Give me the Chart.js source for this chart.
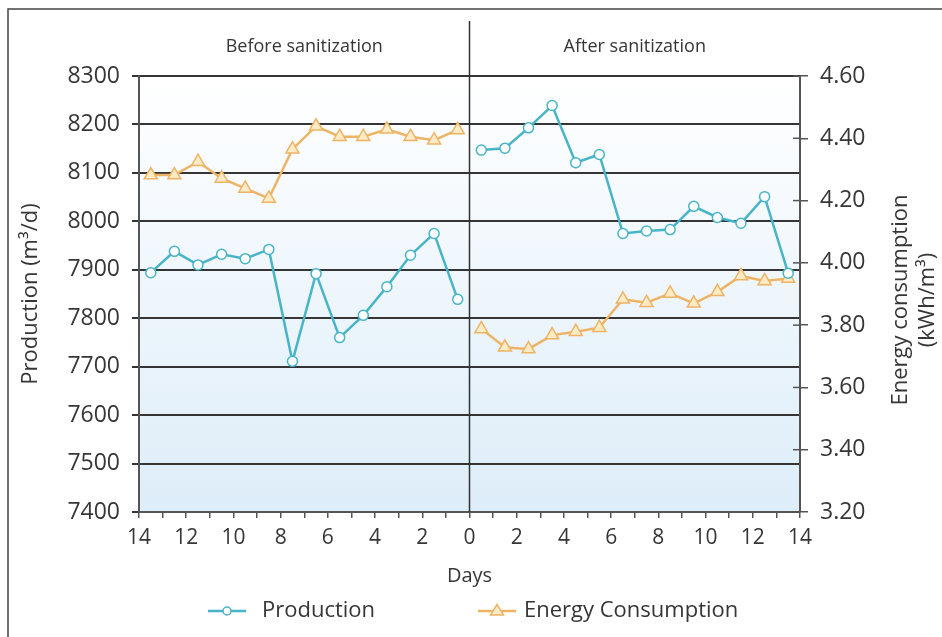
<!DOCTYPE html>
<html>
<head>
<meta charset="utf-8">
<script src="https://cdn.jsdelivr.net/npm/chart.js@4/dist/chart.umd.min.js"></script>
<style>
  html, body { margin: 0; padding: 0; background: #ffffff; }
  #wrap { position: relative; width: 942px; height: 637px; }
  canvas { display: block; }
</style>
</head>
<body>
<div id="wrap"><canvas id="c" width="942" height="637"></canvas></div>
<script>
// ---- Data ----
const beforeDays = [13.5, 12.5, 11.5, 10.5, 9.5, 8.5, 7.5, 6.5, 5.5, 4.5, 3.5, 2.5, 1.5, 0.5];
const afterDays  = [0.5, 1.5, 2.5, 3.5, 4.5, 5.5, 6.5, 7.5, 8.5, 9.5, 10.5, 11.5, 12.5, 13.5];

const productionBefore = [7894, 7938, 7910, 7932, 7923, 7942, 7711, 7892, 7760, 7806, 7865, 7930, 7975, 7839];
const productionAfter  = [8147, 8151, 8193, 8239, 8121, 8138, 7975, 7980, 7983, 8031, 8008, 7996, 8051, 7893];

const energyBefore = [4.282, 4.282, 4.325, 4.271, 4.239, 4.207, 4.365, 4.439, 4.405, 4.405, 4.429, 4.405, 4.394, 4.427];
const energyAfter  = [3.788, 3.729, 3.723, 3.768, 3.779, 3.792, 3.883, 3.872, 3.902, 3.870, 3.907, 3.958, 3.942, 3.950];

const periodLabels = ['Before sanitization', 'After sanitization'];
const seriesNames = ['Production', 'Energy Consumption'];
const leftAxisTitle = 'Production (m³/d)';
const rightAxisTitle = ['Energy consumption', '(kWh/m³)'];
const xAxisTitle = 'Days';

// ---- Build point lists (before = left side, negative positions) ----
function buildPoints(days1, vals1, days2, vals2) {
  const pts = days1.map((d, i) => ({ x: -d, y: vals1[i] }));
  pts.push({ x: 0, y: null });
  days2.forEach((d, i) => pts.push({ x: d, y: vals2[i] }));
  return pts;
}

const FONT = "'Open Sans', 'DejaVu Sans', sans-serif";
const TEXT = '#363636';
const GRID = '#353535';
const AXIS = '#555555';
const PROD_COLOR = '#48b4c7';
const ENERGY_COLOR = '#eeb465';
const ENERGY_FILL = '#fcebc4';

const decorPlugin = {
  id: 'decor',
  beforeDraw(chart) {
    const { ctx, chartArea: a } = chart;
    ctx.save();
    // outer frame (top & left)
    ctx.strokeStyle = '#444';
    ctx.lineWidth = 1.5;
    ctx.beginPath();
    ctx.moveTo(8, chart.height);
    ctx.lineTo(8, 9);
    ctx.lineTo(chart.width, 9);
    ctx.stroke();
    // plot background gradient
    const g = ctx.createLinearGradient(0, a.top, 0, a.bottom);
    g.addColorStop(0, '#ffffff');
    g.addColorStop(1, '#ddedf9');
    ctx.fillStyle = g;
    ctx.fillRect(a.left, a.top, a.right - a.left, a.bottom - a.top);
    ctx.restore();
  },
  beforeDatasetsDraw(chart) {
    const { ctx, chartArea: a, scales } = chart;
    const xs = scales.x, y2 = scales.y2;
    ctx.save();
    // divider at day 0
    const x0 = xs.getPixelForValue(0);
    ctx.strokeStyle = '#333';
    ctx.lineWidth = 1.5;
    ctx.beginPath();
    ctx.moveTo(x0, 21);
    ctx.lineTo(x0, a.bottom);
    ctx.stroke();
    // right axis ticks extend inward too
    ctx.strokeStyle = AXIS;
    ctx.lineWidth = 1.5;
    y2.ticks.forEach(t => {
      const y = y2.getPixelForValue(t.value);
      ctx.beginPath();
      ctx.moveTo(a.right - 7, y);
      ctx.lineTo(a.right, y);
      ctx.stroke();
    });
    // period headers
    ctx.fillStyle = TEXT;
    ctx.font = "18px " + FONT;
    ctx.textAlign = 'center';
    ctx.textBaseline = 'middle';
    ctx.fillText(periodLabels[0], xs.getPixelForValue(-7), 47);
    ctx.fillText(periodLabels[1], xs.getPixelForValue(7), 47);
    ctx.restore();
  },
  afterDraw(chart) {
    const { ctx, chartArea: a } = chart;
    ctx.save();
    // right axis title, reading bottom-to-top
    ctx.fillStyle = TEXT;
    ctx.font = "22px " + FONT;
    ctx.textAlign = 'center';
    ctx.textBaseline = 'middle';
    const cy = (a.top + a.bottom) / 2 + 6;
    ctx.translate(901, cy);
    ctx.rotate(-Math.PI / 2);
    ctx.fillText(rightAxisTitle[0], 0, 0);
    ctx.fillText(rightAxisTitle[1], 0, 27);
    ctx.restore();

    // legend
    const ds = chart.data.datasets;
    const items = [
      { lx: 208, tx: 262, ds: ds[0] },
      { lx: 478, tx: 524, ds: ds[1] }
    ];
    const ly = 611;
    ctx.save();
    items.forEach(it => {
      ctx.strokeStyle = it.ds.borderColor;
      ctx.lineWidth = 2.5;
      ctx.beginPath();
      ctx.moveTo(it.lx, ly);
      ctx.lineTo(it.lx + 38, ly);
      ctx.stroke();
      const cx = it.lx + 19;
      ctx.fillStyle = it.ds.pointBackgroundColor;
      ctx.lineWidth = 1.5;
      ctx.beginPath();
      if (it.ds.pointStyle === 'triangle') {
        const r = 6.5;
        ctx.moveTo(cx, ly - r);
        ctx.lineTo(cx + r, ly + r * 0.6);
        ctx.lineTo(cx - r, ly + r * 0.6);
        ctx.closePath();
      } else {
        ctx.arc(cx, ly, 4, 0, Math.PI * 2);
      }
      ctx.fill();
      ctx.stroke();
      ctx.fillStyle = TEXT;
      ctx.font = "22px " + FONT;
      ctx.textAlign = 'left';
      ctx.textBaseline = 'middle';
      ctx.fillText(it.ds.label, it.tx, ly);
    });
    ctx.restore();
  }
};

const chart = new Chart(document.getElementById('c'), {
  type: 'line',
  data: {
    datasets: [
      {
        label: seriesNames[0],
        data: buildPoints(beforeDays, productionBefore, afterDays, productionAfter),
        yAxisID: 'y',
        borderColor: PROD_COLOR,
        backgroundColor: PROD_COLOR,
        borderWidth: 2.5,
        pointStyle: 'circle',
        pointRadius: 5,
        pointBorderWidth: 1.5,
        pointBackgroundColor: '#ffffff',
        pointBorderColor: PROD_COLOR,
        spanGaps: false,
        tension: 0
      },
      {
        label: seriesNames[1],
        data: buildPoints(beforeDays, energyBefore, afterDays, energyAfter),
        yAxisID: 'y2',
        borderColor: ENERGY_COLOR,
        backgroundColor: ENERGY_COLOR,
        borderWidth: 2.5,
        pointStyle: 'triangle',
        pointRadius: 7.5,
        pointBorderWidth: 1.5,
        pointBackgroundColor: ENERGY_FILL,
        pointBorderColor: ENERGY_COLOR,
        spanGaps: false,
        tension: 0
      }
    ]
  },
  options: {
    responsive: false,
    animation: false,
    layout: { padding: { left: 8, right: 0, top: 76, bottom: 45 } },
    plugins: {
      legend: { display: false },
      tooltip: { enabled: false }
    },
    scales: {
      x: {
        type: 'linear',
        min: -14,
        max: 14,
        afterFit: s => { s.height = 80; },
        ticks: {
          stepSize: 1,
          autoSkip: false,
          maxRotation: 0,
          color: TEXT,
          font: { family: FONT, size: 21 },
          padding: 7,
          callback: v => (v % 2 === 0 ? String(Math.abs(v)) : '')
        },
        grid: { drawOnChartArea: false, drawTicks: true, tickLength: 6, color: AXIS, lineWidth: 1.5 },
        border: { display: true, color: AXIS, width: 2 },
        title: { display: true, text: xAxisTitle, color: TEXT, font: { family: FONT, size: 20 }, padding: { top: 6 } }
      },
      y: {
        position: 'left',
        min: 7400,
        max: 8300,
        afterFit: s => { s.width = 131; },
        ticks: {
          stepSize: 100,
          color: TEXT,
          font: { family: FONT, size: 23 },
          padding: 12,
          callback: v => String(v)
        },
        grid: { color: GRID, lineWidth: 2, tickLength: 7, drawTicks: true },
        border: { display: true, color: AXIS, width: 2 },
        title: { display: true, text: leftAxisTitle, color: TEXT, font: { family: FONT, size: 22 }, padding: { top: 10, bottom: 0 } }
      },
      y2: {
        position: 'right',
        min: 3.2,
        max: 4.6,
        afterFit: s => { s.width = 142; },
        ticks: {
          stepSize: 0.2,
          color: TEXT,
          font: { family: FONT, size: 23 },
          padding: 12,
          callback: v => Number(v).toFixed(2)
        },
        grid: { drawOnChartArea: false, drawTicks: true, tickLength: 8, color: AXIS, lineWidth: 1.5 },
        border: { display: true, color: AXIS, width: 2 }
      }
    }
  },
  plugins: [decorPlugin]
});
</script>
</body>
</html>
